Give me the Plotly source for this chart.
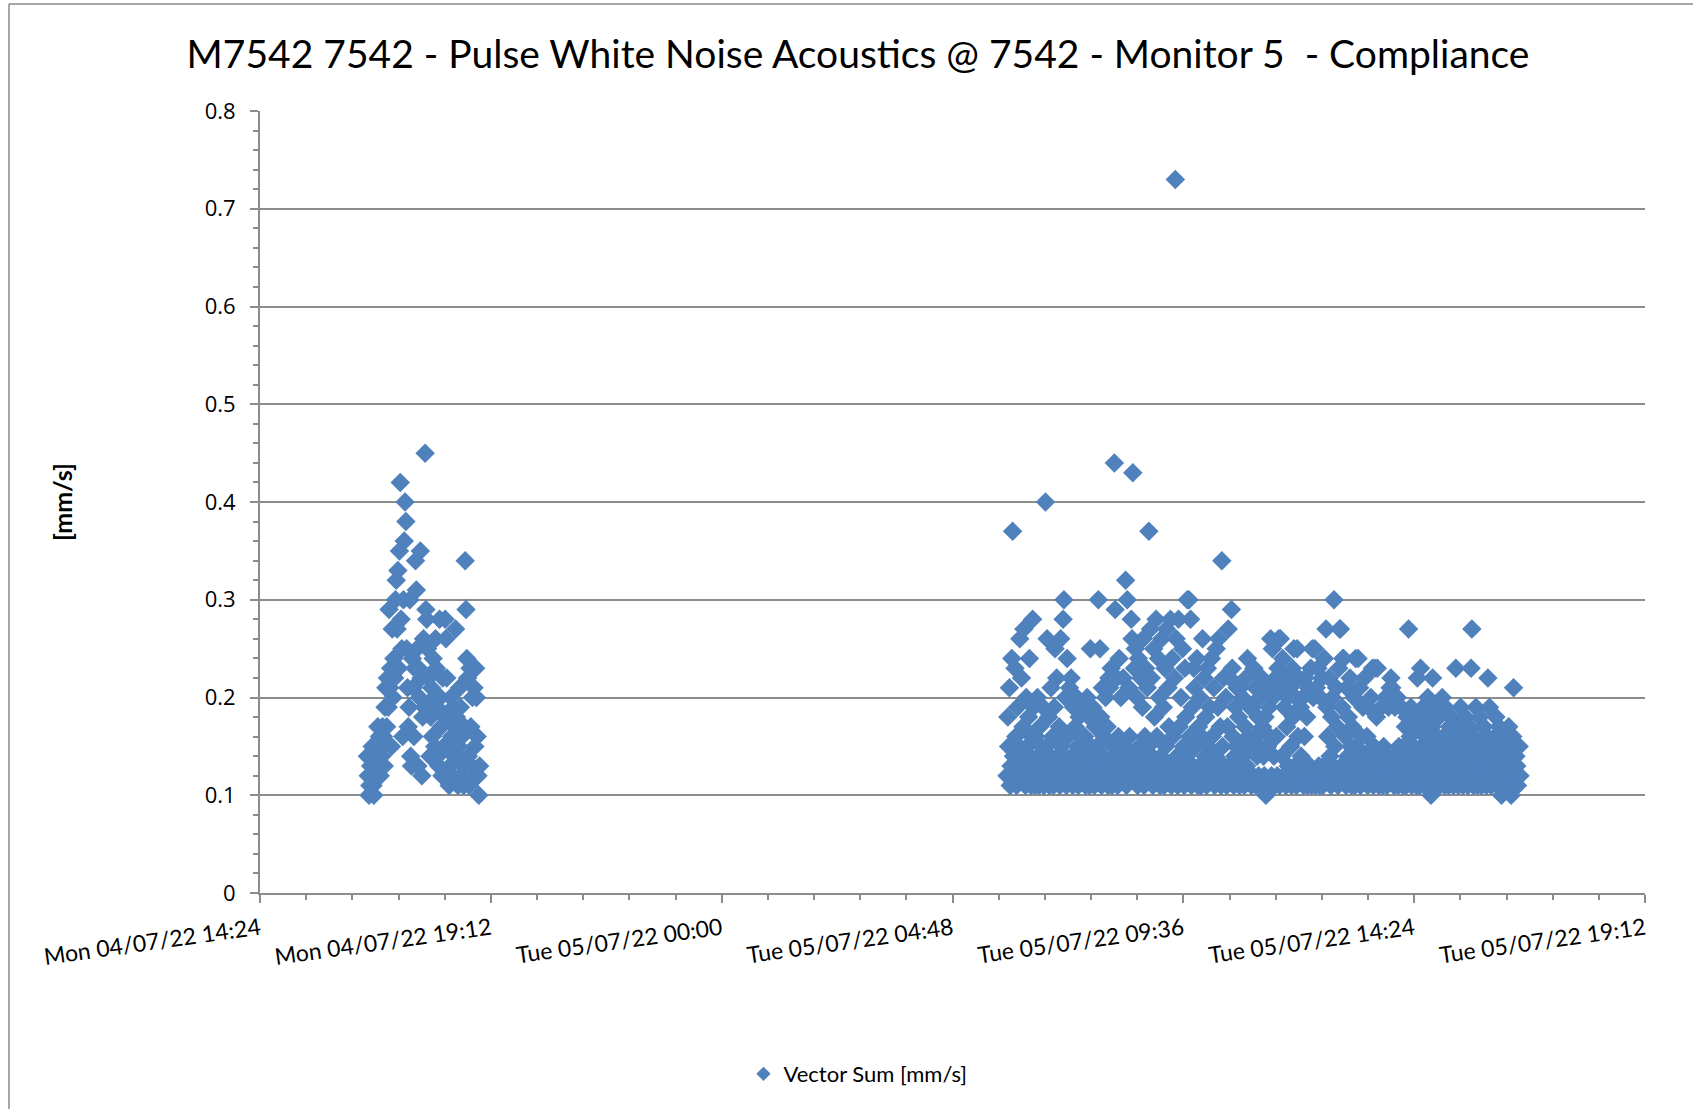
import pandas as pd
import plotly.graph_objects as go

# ---------------- data ----------------
TITLE = "M7542 7542 - Pulse White Noise Acoustics @ 7542 - Monitor 5  - Compliance"
SERIES_NAME = "Vector Sum [mm/s]"
Y_TITLE = "[mm/s]"

LOG_INTERVAL = "1min"

# Session 1: Mon 04/07/22 from 16:38
SESSION1_START = "2022-07-04 16:38"
SESSION1_VALUES = [
    0.14, 0.12, 0.10, 0.11, 0.13, 0.12, 0.15, 0.11, 0.10, 0.14,
    0.12, 0.15, 0.14, 0.17, 0.13, 0.16, 0.12, 0.15, 0.14, 0.17, 0.16, 0.13,
    0.19, 0.21, 0.17, 0.22, 0.19, 0.29, 0.21, 0.23, 0.15, 0.27, 0.20, 0.24, 0.22,
    0.30, 0.32, 0.27, 0.33, 0.23, 0.35, 0.42, 0.28, 0.25, 0.16, 0.30, 0.36,
    0.40, 0.38, 0.25, 0.21, 0.17, 0.19, 0.30, 0.14, 0.13, 0.24, 0.21, 0.16, 0.23,
    0.34, 0.31, 0.25, 0.13, 0.23, 0.20, 0.35, 0.22, 0.12, 0.18, 0.26, 0.19,
    0.45, 0.29, 0.28, 0.25, 0.22, 0.19, 0.14, 0.18, 0.21, 0.16, 0.24, 0.20, 0.15,
    0.26, 0.23, 0.19, 0.14, 0.13, 0.28, 0.20, 0.17, 0.12, 0.22, 0.15, 0.18,
    0.28, 0.26, 0.22, 0.18, 0.15, 0.11, 0.13, 0.20, 0.16, 0.12, 0.19, 0.14, 0.17,
    0.27, 0.18, 0.14, 0.11, 0.15, 0.21, 0.19, 0.12, 0.16, 0.13, 0.11, 0.17,
    0.34, 0.29, 0.24, 0.22, 0.14, 0.11, 0.23, 0.17, 0.13, 0.20, 0.12, 0.21, 0.15,
    0.23, 0.20, 0.16, 0.12, 0.10, 0.13,
]

# Session 2: Tue 05/07/22 from 05:56
SESSION2_START = "2022-07-05 05:56"
SESSION2_VALUES = [
    0.12, 0.18, 0.15, 0.21, 0.11, 0.13, 0.24, 0.37, 0.14, 0.12, 0.23, 0.16, 0.11, 0.19, 0.13, 0.15,
    0.26, 0.14, 0.22, 0.12, 0.17, 0.27, 0.13, 0.11, 0.20, 0.15, 0.12, 0.18, 0.24, 0.14, 0.11, 0.16,
    0.28, 0.19, 0.13, 0.11, 0.16, 0.12, 0.20, 0.14, 0.11, 0.17, 0.13, 0.15, 0.12, 0.19, 0.11, 0.14,
    0.40, 0.15, 0.26, 0.12, 0.18, 0.11, 0.14, 0.21, 0.13, 0.16, 0.11, 0.19, 0.25, 0.12, 0.22, 0.14,
    0.13, 0.17, 0.11, 0.26, 0.15, 0.12, 0.28, 0.30, 0.14, 0.20, 0.11, 0.24, 0.16, 0.13, 0.21, 0.12,
    0.22, 0.14, 0.11, 0.19, 0.13, 0.17, 0.12, 0.20, 0.15, 0.11, 0.18, 0.13, 0.16, 0.12, 0.14, 0.19,
    0.12, 0.16, 0.11, 0.14, 0.20, 0.13, 0.18, 0.11, 0.25, 0.15, 0.12, 0.19, 0.14, 0.11, 0.17, 0.13,
    0.15, 0.12, 0.30, 0.13, 0.25, 0.18, 0.11, 0.21, 0.14, 0.16, 0.12, 0.20, 0.13, 0.17, 0.11, 0.22,
    0.21, 0.13, 0.23, 0.11, 0.15, 0.12, 0.44, 0.29, 0.14, 0.22, 0.11, 0.16, 0.24, 0.13, 0.20, 0.12,
    0.14, 0.22, 0.12, 0.15, 0.32, 0.11, 0.30, 0.13, 0.21, 0.16, 0.12, 0.28, 0.26, 0.43, 0.14, 0.23,
    0.25, 0.13, 0.20, 0.11, 0.24, 0.15, 0.12, 0.22, 0.14, 0.19, 0.26, 0.11, 0.16, 0.23, 0.13, 0.21,
    0.15, 0.37, 0.12, 0.27, 0.22, 0.14, 0.11, 0.25, 0.18, 0.13, 0.28, 0.16, 0.12, 0.24, 0.20, 0.11,
    0.14, 0.26, 0.13, 0.19, 0.11, 0.23, 0.15, 0.27, 0.12, 0.21, 0.17, 0.13, 0.28, 0.11, 0.24, 0.16,
    0.12, 0.22, 0.73, 0.26, 0.14, 0.11, 0.28, 0.17, 0.13, 0.20, 0.12, 0.25, 0.15, 0.11, 0.23, 0.18,
    0.14, 0.30, 0.12, 0.30, 0.16, 0.28, 0.11, 0.19, 0.13, 0.23, 0.21, 0.15, 0.12, 0.24, 0.11, 0.17,
    0.13, 0.20, 0.11, 0.16, 0.26, 0.12, 0.22, 0.14, 0.18, 0.11, 0.23, 0.15, 0.12, 0.19, 0.13, 0.24,
    0.16, 0.12, 0.21, 0.11, 0.14, 0.25, 0.13, 0.19, 0.26, 0.12, 0.17, 0.11, 0.34, 0.15, 0.22, 0.13,
    0.12, 0.20, 0.11, 0.17, 0.27, 0.13, 0.22, 0.12, 0.29, 0.23, 0.16, 0.11, 0.14, 0.19, 0.15, 0.21,
    0.13, 0.18, 0.11, 0.21, 0.15, 0.12, 0.20, 0.14, 0.11, 0.17, 0.22, 0.13, 0.24, 0.16, 0.12, 0.19,
    0.15, 0.11, 0.19, 0.12, 0.23, 0.16, 0.21, 0.11, 0.14, 0.18, 0.12, 0.20, 0.15, 0.11, 0.22, 0.17,
    0.14, 0.12, 0.18, 0.10, 0.21, 0.15, 0.11, 0.19, 0.16, 0.26, 0.12, 0.25, 0.20, 0.14, 0.11, 0.22,
    0.16, 0.12, 0.23, 0.26, 0.11, 0.26, 0.21, 0.14, 0.24, 0.12, 0.19, 0.22, 0.11, 0.17, 0.20, 0.13,
    0.12, 0.21, 0.15, 0.11, 0.23, 0.18, 0.25, 0.13, 0.20, 0.11, 0.25, 0.16, 0.22, 0.12, 0.19, 0.14,
    0.13, 0.20, 0.11, 0.16, 0.22, 0.12, 0.18, 0.11, 0.21, 0.12, 0.13, 0.23, 0.11, 0.25, 0.20, 0.12,
    0.25, 0.11, 0.21, 0.12, 0.23, 0.13, 0.11, 0.20, 0.12, 0.22, 0.11, 0.13, 0.24, 0.12, 0.27, 0.19,
    0.16, 0.12, 0.22, 0.14, 0.11, 0.18, 0.20, 0.13, 0.30, 0.15, 0.12, 0.21, 0.17, 0.11, 0.23, 0.27,
    0.27, 0.13, 0.19, 0.24, 0.24, 0.12, 0.16, 0.11, 0.21, 0.14, 0.18, 0.12, 0.22, 0.15, 0.11, 0.17,
    0.13, 0.20, 0.11, 0.24, 0.15, 0.12, 0.24, 0.14, 0.21, 0.11, 0.16, 0.13, 0.19, 0.12, 0.22, 0.14,
    0.12, 0.16, 0.11, 0.19, 0.14, 0.12, 0.20, 0.13, 0.23, 0.11, 0.15, 0.23, 0.12, 0.18, 0.23, 0.13,
    0.11, 0.14, 0.12, 0.19, 0.13, 0.11, 0.15, 0.12, 0.20, 0.14, 0.11, 0.13, 0.19, 0.12, 0.21, 0.22,
    0.21, 0.12, 0.14, 0.11, 0.19, 0.13, 0.12, 0.20, 0.11, 0.15, 0.13, 0.12, 0.19, 0.14, 0.11, 0.15,
    0.13, 0.17, 0.11, 0.18, 0.14, 0.27, 0.12, 0.16, 0.19, 0.11, 0.13, 0.15, 0.12, 0.18, 0.14, 0.11,
    0.22, 0.13, 0.17, 0.11, 0.23, 0.15, 0.12, 0.19, 0.14, 0.11, 0.16, 0.12, 0.18, 0.20, 0.13, 0.11,
    0.14, 0.10, 0.17, 0.22, 0.12, 0.15, 0.11, 0.19, 0.13, 0.16, 0.12, 0.18, 0.11, 0.14, 0.12, 0.20,
    0.13, 0.16, 0.11, 0.19, 0.12, 0.15, 0.14, 0.11, 0.17, 0.13, 0.18, 0.12, 0.15, 0.11, 0.16, 0.13,
    0.23, 0.12, 0.15, 0.11, 0.17, 0.13, 0.19, 0.12, 0.14, 0.11, 0.16, 0.13, 0.18, 0.12, 0.15, 0.11,
    0.14, 0.12, 0.17, 0.23, 0.27, 0.13, 0.11, 0.16, 0.12, 0.19, 0.14, 0.11, 0.15, 0.13, 0.18, 0.12,
    0.11, 0.15, 0.13, 0.17, 0.12, 0.14, 0.11, 0.16, 0.22, 0.12, 0.19, 0.13, 0.11, 0.15, 0.12, 0.14,
    0.13, 0.16, 0.18, 0.12, 0.14, 0.11, 0.17, 0.13, 0.12, 0.10, 0.15, 0.11, 0.14, 0.12, 0.16, 0.13,
    0.14, 0.12, 0.17, 0.11, 0.15, 0.10, 0.13, 0.16, 0.21, 0.12, 0.11, 0.14, 0.13, 0.11, 0.12, 0.15,
    0.12,
]

X_RANGE = ["2022-07-04 14:24", "2022-07-05 19:12"]
X_TICK0 = "2022-07-04 14:24"
X_MAJOR_HOURS = 4.8
X_MINOR_HOURS = 0.96
Y_RANGE = [0, 0.8]
Y_MAJOR = 0.1
Y_MINOR = 0.02

# ---------------- build ----------------
t1 = pd.date_range(SESSION1_START, periods=len(SESSION1_VALUES), freq=LOG_INTERVAL)
t2 = pd.date_range(SESSION2_START, periods=len(SESSION2_VALUES), freq=LOG_INTERVAL)
times = list(t1) + list(t2)
values = SESSION1_VALUES + SESSION2_VALUES

BLUE = "#4F81BD"
GRID = "#8c8c8c"
HOUR_MS = 3600 * 1000

fig = go.Figure()
fig.add_trace(go.Scatter(
    x=times, y=values, mode="markers", name=SERIES_NAME, showlegend=False,
    marker=dict(symbol="diamond", size=15, color=BLUE, line=dict(width=0)),
))
# legend entry (smaller symbol as in the original)
fig.add_trace(go.Scatter(
    x=[None], y=[None], mode="markers", name=SERIES_NAME,
    marker=dict(symbol="diamond", size=11, color=BLUE, line=dict(width=0)),
))

W, H = 1693, 1109
L, R, T, B = 260, 48, 111, 216
pw, ph = W - L - R, H - T - B

def px_x(x):
    return (x - L) / pw

def px_y(y):
    return (H - B - y) / ph

fig.update_layout(
    width=W, height=H,
    margin=dict(l=L, r=R, t=T, b=B),
    paper_bgcolor="white", plot_bgcolor="white",
    font=dict(family="Lato", color="black"),
    title=dict(text=TITLE, x=858 / W, xanchor="center", y=1 - 54 / H, yanchor="middle",
               font=dict(family="Lato", size=39, color="black")),
    showlegend=True,
    legend=dict(orientation="h", x=px_x(858), y=px_y(1074), xanchor="center", yanchor="middle",
                font=dict(family="Lato", size=22, color="black"), itemwidth=30),
    xaxis=dict(
        type="date", range=X_RANGE, tick0=X_TICK0, dtick=X_MAJOR_HOURS * HOUR_MS,
        tickformat="%a %d/%m/%y %H:%M", tickangle=-8,
        tickfont=dict(family="Lato", size=23, color="black"),
        showline=True, linecolor=GRID, linewidth=2,
        ticks="outside", ticklen=8, tickwidth=2, tickcolor=GRID,
        ticklabelstandoff=4,
        minor=dict(ticks="outside", ticklen=5, tickwidth=1.5, tickcolor=GRID,
                   dtick=X_MINOR_HOURS * HOUR_MS, tick0=X_TICK0, showgrid=False),
        showgrid=False, zeroline=False,
    ),
    yaxis=dict(
        range=Y_RANGE, dtick=Y_MAJOR, tick0=0,
        tickfont=dict(family="Open Sans", size=22, color="black"),
        showline=True, linecolor=GRID, linewidth=2,
        ticks="outside", ticklen=8, tickwidth=2, tickcolor=GRID,
        ticklabelstandoff=10,
        minor=dict(ticks="outside", ticklen=5, tickwidth=1.5, tickcolor=GRID,
                   dtick=Y_MINOR, showgrid=False),
        showgrid=True, gridcolor=GRID, gridwidth=2, zeroline=False,
    ),
    annotations=[dict(
        text=f"<b>{Y_TITLE}</b>", xref="paper", yref="paper", x=px_x(62), y=px_y(502),
        xanchor="center", yanchor="middle", textangle=-90, showarrow=False,
        font=dict(family="Lato", size=25, color="black"),
    )],
    shapes=[
        dict(type="line", xref="paper", yref="paper", x0=px_x(9), x1=px_x(9),
             y0=px_y(4), y1=px_y(H + 20), line=dict(color="#8a8a8a", width=1.5)),
        dict(type="line", xref="paper", yref="paper", x0=px_x(9), x1=px_x(W + 20),
             y0=px_y(4), y1=px_y(4), line=dict(color="#8a8a8a", width=1.5)),
    ],
)

fig.write_html("out.html", config={"displayModeBar": False},
               post_script="document.body.style.margin='0';")
